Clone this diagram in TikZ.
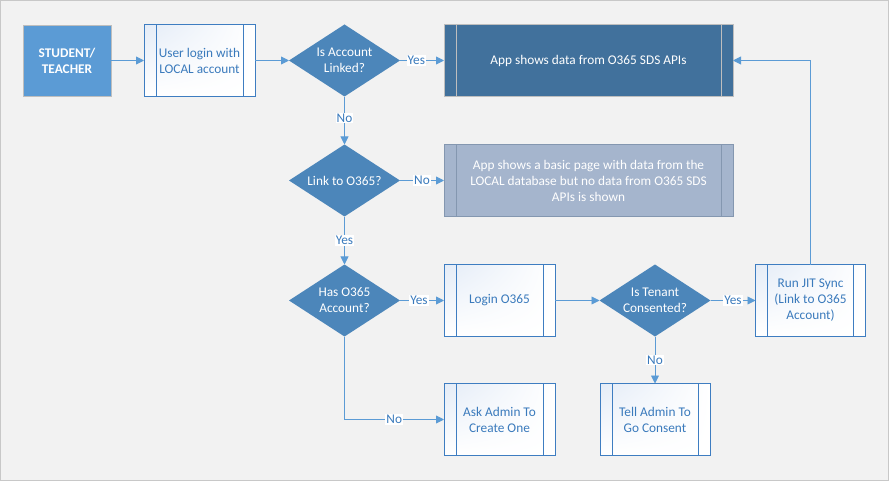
\documentclass[tikz,border=0pt]{standalone}
\usepackage{fontspec}
\setmainfont{Carlito}
\usepackage{tikz}
\usetikzlibrary{shapes,shadings,arrows.meta,positioning,calc}

\definecolor{bgfill}{RGB}{242,242,242}
\definecolor{framegray}{RGB}{200,200,200}
\definecolor{flowblue}{RGB}{91,155,213}
\definecolor{actorblue}{RGB}{91,155,213}
\definecolor{decideblue}{RGB}{76,134,186}
\definecolor{procline}{RGB}{62,125,193}
\definecolor{proctext}{RGB}{58,122,188}
\definecolor{procshade}{RGB}{228,236,247}
\definecolor{apiblue}{RGB}{65,113,156}
\definecolor{localgray}{RGB}{165,181,205}
\definecolor{localline}{RGB}{132,151,176}
\definecolor{boxgray}{RGB}{190,190,190}

\begin{document}
\begin{tikzpicture}[x=1pt, y=-1pt, font=\fontsize{13.3}{16}\selectfont, outer sep=0pt,
    bars/.style={path picture={
        \draw[#1, line width=0.8pt]
            ([xshift=12pt]path picture bounding box.north west) -- ([xshift=12pt]path picture bounding box.south west)
            ([xshift=-12pt]path picture bounding box.north east) -- ([xshift=-12pt]path picture bounding box.south east);}},
    proc/.style={rectangle, draw=procline, line width=0.8pt, text=proctext, align=center,
        minimum width=111pt, minimum height=72pt, inner sep=0pt,
        upper left=procshade, upper right=white, lower left=white, lower right=white, bars=procline},
    decide/.style={diamond, fill=decideblue, text=white, align=center, inner sep=-5pt,
        aspect=1.54, minimum width=111pt, minimum height=72pt},
    flow/.style={draw=flowblue, line width=0.9pt, -{Triangle[length=8pt,width=8pt]}},
    tag/.style={fill=white, text=proctext, inner sep=1pt}]

    \useasboundingbox (0,0) rectangle (889,481);
    \draw[fill=bgfill, draw=framegray] (0.5,0.5) rectangle (888.5,480.5);

    \node (student) [rectangle, fill=actorblue, draw=boxgray, line width=0.8pt, text=white, align=center,
        minimum width=88pt, minimum height=71pt, font=\fontsize{13.3}{16}\selectfont\bfseries] at (67,60.5) {STUDENT/\\TEACHER};
    \node (local) [proc, right=33pt of student] {User login with\\LOCAL account};
    \node (linked) [decide, right=34pt of local] {Is Account\\Linked?};
    \node (showapi) [rectangle, fill=apiblue, draw=boxgray, line width=0.8pt, text=white, minimum width=289pt,
        minimum height=72pt, bars=boxgray, right=44pt of linked] {App shows data from O365 SDS APIs};
    \node (linkq) [decide, below=48pt of linked] {Link to O365?};
    \node (basic) [rectangle, fill=localgray, draw=localline, line width=0.8pt, text=white, align=center,
        minimum width=289pt, minimum height=72pt, bars=localline, right=44pt of linkq]
        {App shows a basic page with data from the\\LOCAL database but no data from O365 SDS\\APIs is shown};
    \node (hasacct) [decide, below=48pt of linkq] {Has O365\\Account?};
    \node (login) [proc, right=44pt of hasacct] {Login O365};
    \node (tenant) [decide, right=44.5pt of login] {Is Tenant\\Consented?};
    \node (jit) [proc, minimum width=110pt, right=45pt of tenant] {Run JIT Sync\\(Link to O365\\Account)};
    \node (ask) [proc, below=47pt of login] {Ask Admin To\\Create One};
    \node (tell) [proc, minimum width=110pt, below=47pt of tenant] {Tell Admin To\\Go Consent};

    \draw[flow] (student) -- (local);
    \draw[flow] (local) -- (linked);
    \draw[flow] (linked) -- node[tag, pos=0.37] {Yes} (showapi);
    \draw[flow] (linked) -- node[tag, pos=0.45] {No} (linkq);
    \draw[flow] (linkq) -- node[tag] {No} (basic);
    \draw[flow] (linkq) -- node[tag] {Yes} (hasacct);
    \draw[flow] (hasacct) -- node[tag, pos=0.43] {Yes} (login);
    \draw[flow] (hasacct) |- node[tag, pos=0.75] {No} (ask);
    \draw[flow] (login) -- (tenant);
    \draw[flow] (tenant) -- node[tag] {Yes} (jit);
    \draw[flow] (tenant) -- node[tag] {No} (tell);
    \draw[flow] (jit) |- (showapi);
\end{tikzpicture}
\end{document}
